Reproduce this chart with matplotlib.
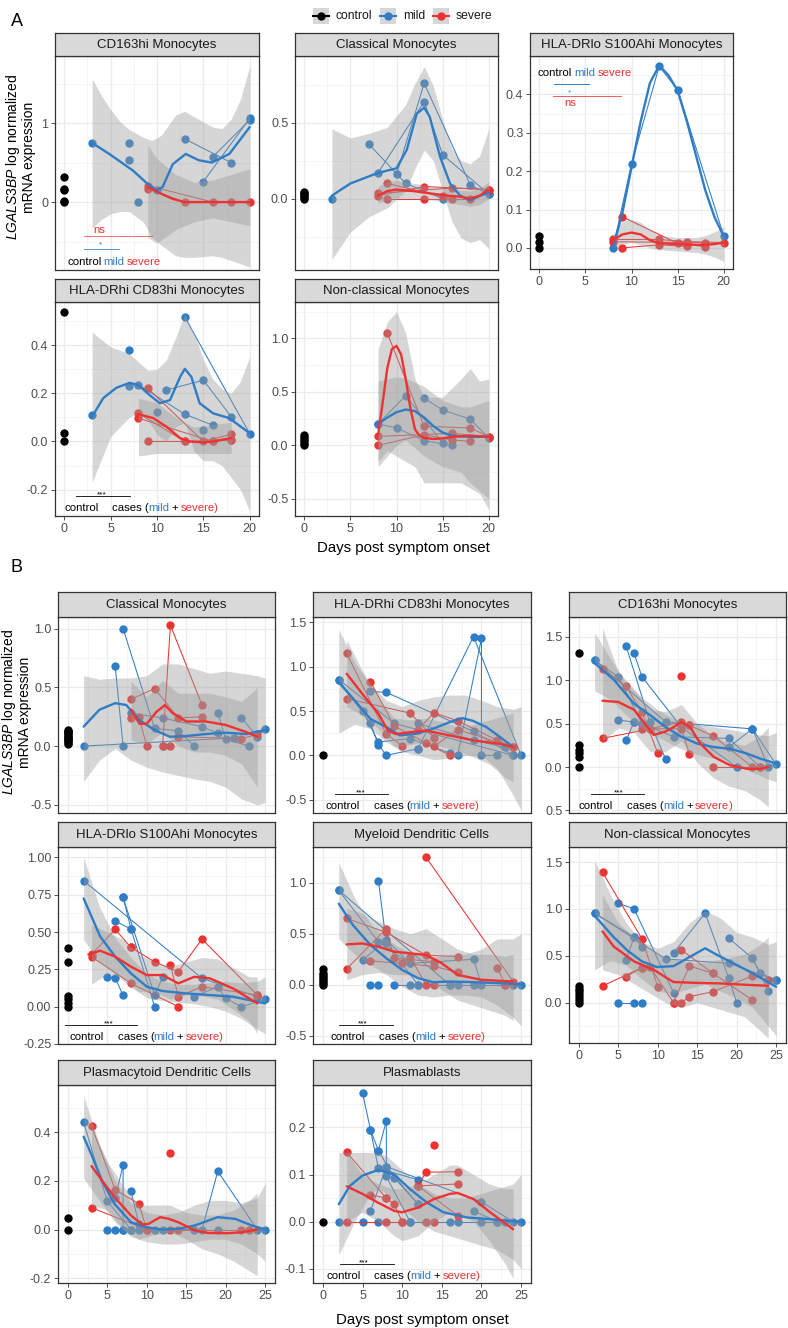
import matplotlib
matplotlib.use("Agg")
import matplotlib.pyplot as plt
import matplotlib.transforms as mtransforms
from matplotlib.patches import Rectangle

plt.rcParams['font.family'] = ['Liberation Sans', 'DejaVu Sans']
plt.rcParams['mathtext.fontset'] = 'custom'
plt.rcParams['mathtext.it'] = 'Liberation Sans:italic'
plt.rcParams['mathtext.rm'] = 'Liberation Sans'

BLUE = '#2F7DC6'
RED = '#EE3232'
W, H = 788, 1328

# ==========================
# DATA  (x = days, y = expression)
# ==========================
# --- A: CD163hi Monocytes
a_cd163_ctrl = [0.32, 0.17, 0.15, 0.02, 0.0]
a_cd163_mild = [[(3, 0.75)], [(7, 0.75)], [(7, 0.53)], [(8, 0.0)], [(10, 0.15)],
                [(13, 0.80), (18, 0.50)], [(15, 0.26), (20, 1.06)], [(16, 0.57), (20, 1.04)]]
a_cd163_mfit = [(3, 0.75), (4.85, 0.61), (7.4, 0.40), (8.8, 0.25), (9.9, 0.15), (10.6, 0.19),
                (11.7, 0.48), (13.1, 0.61), (14.5, 0.53), (15.9, 0.50), (17.8, 0.61), (20, 0.95)]
a_cd163_mband = [(3, -0.33, 1.56), (4, -0.22, 1.35), (5, -0.15, 1.17), (6, -0.12, 1.02), (7, -0.12, 0.92),
                 (8.5, -0.25, 0.82), (9.5, -0.45, 0.78), (10.5, -0.55, 0.85), (12, -0.68, 1.10),
                 (13, -0.70, 1.15), (14, -0.70, 1.08), (16, -0.68, 0.95), (17, -0.70, 0.93),
                 (18, -0.74, 1.05), (19, -0.78, 1.30), (20, -0.82, 1.72)]
a_cd163_sev = [[(9, 0.21), (16, 0.0), (20, 0.0)], [(9, 0.17), (13, 0.0), (18, 0.0)]]
a_cd163_sfit = [(9, 0.19), (10, 0.13), (11.7, 0.04), (13, 0.0), (16, 0.0), (18, 0.0), (20, 0.0)]
a_cd163_sband = [(9, -0.45, 0.72), (10, -0.52, 0.55), (12, -0.35, 0.35), (14, -0.25, 0.25),
                 (16, -0.20, 0.28), (18, -0.25, 0.35), (20, -0.30, 0.42)]

# --- A: Classical Monocytes
a_class_ctrl = [0.0, 0.01, 0.02, 0.03, 0.04, 0.045]
a_class_mild = [[(7, 0.36), (11, 0.10), (15, 0.0)], [(8, 0.17), (13, 0.64), (15, 0.29), (20, 0.03)],
                [(10, 0.16), (13, 0.76), (18, 0.09), (20, 0.03)], [(3, 0.0)]]
a_class_mfit = [(3, 0.02), (5, 0.10), (8, 0.17), (10, 0.20), (11.1, 0.32), (12.2, 0.56), (13, 0.60),
                (13.6, 0.54), (14.7, 0.28), (15.8, 0.10), (16.9, 0.02), (18, -0.01), (19.1, 0.02), (20, 0.04)]
a_class_mband = [(3, -0.40, 0.46), (5, -0.22, 0.40), (7, -0.12, 0.43), (9, -0.06, 0.47), (11, 0.05, 0.62),
                 (12, 0.20, 0.76), (13, 0.32, 0.87), (14, 0.25, 0.74), (15, 0.05, 0.52), (16, -0.15, 0.33),
                 (17, -0.26, 0.25), (18, -0.29, 0.23), (19, -0.27, 0.28), (20, -0.33, 0.46)]
a_class_sev = [[(8, 0.02), (13, 0.08), (20, 0.06)], [(8, 0.035), (16, 0.07), (20, 0.06)],
               [(9, 0.10), (16, 0.0)], [(9, 0.0), (13, 0.0), (18, 0.0)], [(15, 0.02)]]
a_class_sfit = [(8, 0.02), (9, 0.05), (10, 0.06), (11.8, 0.05), (13.6, 0.035), (15.5, 0.02),
                (16.9, 0.013), (18, 0.0), (19, 0.02), (20, 0.06)]
a_class_sband = [(8, -0.03, 0.08), (9, -0.01, 0.11), (10, 0.0, 0.12), (12, 0.0, 0.10), (14, -0.01, 0.08),
                 (16, -0.03, 0.06), (18, -0.05, 0.05), (19, -0.04, 0.07), (20, 0.0, 0.11)]

# --- A: HLA-DRlo S100Ahi Monocytes
a_dr100_ctrl = [0.0, 0.016, 0.031]
a_dr100_mild = [[(8, 0.0), (10, 0.219), (13, 0.473), (15, 0.412), (20, 0.031)]]
a_dr100_mfit = [(8, 0.0), (9, 0.09), (10, 0.21), (11, 0.33), (12, 0.43), (13, 0.475), (14, 0.45),
                (15, 0.41), (16, 0.33), (17, 0.24), (18, 0.15), (19, 0.08), (20, 0.03)]
a_dr100_mband = []
a_dr100_sev = [[(8, 0.022), (13, 0.022), (16, 0.016), (20, 0.014)], [(8, 0.016), (18, 0.014)],
               [(9, 0.081), (15, 0.012), (18, 0.003)], [(9, 0.0), (13, 0.008), (16, 0.004)]]
a_dr100_sfit = [(8, 0.02), (9, 0.035), (10, 0.04), (11, 0.035), (12, 0.02), (13, 0.012), (15, 0.01),
                (17, 0.008), (18, 0.008), (19, 0.01), (20, 0.014)]
a_dr100_sband = [(8, 0.0, 0.035), (9, 0.01, 0.068), (10, 0.014, 0.075), (11, 0.008, 0.066), (12, 0.0, 0.048),
                 (13, -0.005, 0.032), (15, -0.008, 0.027), (17, -0.012, 0.027), (18, -0.016, 0.032),
                 (19, -0.024, 0.042), (20, -0.035, 0.055)]

# --- A: HLA-DRhi CD83hi Monocytes
a_dr83_ctrl = [0.538, 0.034, 0.0]
a_dr83_mild = [[(8, 0.236), (13, 0.113), (16, 0.068)], [(11, 0.214), (15, 0.255), (18, 0.103)],
               [(13, 0.517), (20, 0.032)], [(3, 0.109)], [(7, 0.382)], [(7, 0.232)], [(10, 0.124)],
               [(15, 0.046)]]
a_dr83_mfit = [(3, 0.103), (4.2, 0.18), (5.6, 0.223), (7.07, 0.244), (8, 0.234), (9.2, 0.193), (10.3, 0.159),
               (11.4, 0.172), (12.5, 0.269), (13, 0.302), (13.7, 0.269), (14.6, 0.159), (16.05, 0.117),
               (17.8, 0.097), (20, 0.034)]
a_dr83_mband = [(3, -0.17, 0.455), (5, 0.02, 0.393), (7, 0.10, 0.366), (8, 0.12, 0.33), (9, 0.09, 0.297),
                (10, 0.03, 0.30), (11, 0.0, 0.338), (12, 0.06, 0.43), (13, 0.08, 0.531), (14, -0.04, 0.45),
                (15, -0.08, 0.34), (16, -0.08, 0.26), (17, -0.10, 0.22), (18, -0.15, 0.20),
                (19, -0.20, 0.25), (20, -0.29, 0.352)]
a_dr83_sev = [[(9, 0.221), (15, 0.0), (18, 0.03)], [(8, 0.117), (13, 0.0), (16, 0.0)],
              [(8, 0.097), (16, 0.0), (18, 0.007)], [(9, 0.0), (13, 0.0), (18, 0.007)]]
a_dr83_sfit = [(8, 0.114), (9.6, 0.097), (11, 0.062), (12.5, 0.014), (13.5, 0.0), (15, -0.004),
               (16, 0.0), (18, 0.014)]
a_dr83_sband = [(8, -0.06, 0.18), (10, -0.05, 0.16), (12, -0.05, 0.10), (14, -0.05, 0.06),
                (16, -0.05, 0.07), (18, -0.05, 0.08)]

# --- A: Non-classical Monocytes
a_ncm_ctrl = [0.0, 0.02, 0.04, 0.06, 0.08, 0.10]
a_ncm_mild = [[(8, 0.20), (11, 0.466), (15, 0.022)], [(8, 0.20), (10, 0.163), (13, 0.044), (16, 0.0)],
              [(13, 0.44), (15, 0.331), (18, 0.244), (20, 0.069)]]
a_ncm_mfit = [(8, 0.20), (9, 0.26), (10, 0.31), (11, 0.335), (12, 0.32), (13, 0.26), (14, 0.18),
              (15, 0.12), (16, 0.09), (18, 0.08), (20, 0.08)]
a_ncm_mband = [(8, -0.20, 0.60), (10, 0.0, 0.64), (11, 0.05, 0.63), (13, -0.10, 0.55), (15, -0.20, 0.42),
               (17, -0.25, 0.36), (18, -0.35, 0.36), (20, -0.50, 0.42)]
a_ncm_sev = [[(9, 1.05), (13, 0.178), (18, 0.163), (20, 0.081)], [(8, 0.084), (16, 0.113), (20, 0.081)],
             [(8, 0.0), (13, 0.10), (16, 0.05), (18, 0.038)]]
a_ncm_sfit = [(8, 0.09), (8.5, 0.40), (9, 0.72), (9.5, 0.90), (10, 0.93), (10.5, 0.85), (11, 0.62),
              (11.5, 0.35), (12, 0.15), (12.5, 0.09), (13, 0.07), (14, 0.06), (15, 0.065), (16, 0.08),
              (18, 0.09), (20, 0.08)]
a_ncm_sband = [(8, -0.15, 0.90), (9, -0.05, 1.15), (10, -0.10, 1.25), (11, -0.15, 1.05), (12, -0.20, 0.62),
               (13, -0.35, 0.45), (15, -0.35, 0.45), (17, -0.35, 0.62), (18, -0.40, 0.72),
               (19, -0.45, 0.60), (20, -0.60, 0.62)]

# --- B: Classical Monocytes
b_class_ctrl = [0.02, 0.03, 0.04, 0.05, 0.06, 0.07, 0.08, 0.09, 0.10, 0.11, 0.12, 0.13, 0.14]
b_class_mild = [[(2, 0.0), (21, 0.07)], [(6, 0.68), (7, 0.0)], [(7, 1.0), (11, 0.15), (14, 0.13), (16, 0.0)],
                [(8, 0.28), (12, 0.24), (17, 0.165), (19, 0.11)], [(12, 0.0)],
                [(19, 0.286), (20, 0.057), (23, 0.0)], [(22, 0.24), (24, 0.08), (25, 0.146)]]
b_class_mfit = [(2, 0.166), (4, 0.31), (6, 0.366), (7.4, 0.35), (9.1, 0.22), (11, 0.137), (12.9, 0.08),
                (15, 0.086), (17.5, 0.103), (20, 0.114), (22.6, 0.103), (25, 0.137)]
b_class_mband = [(2, -0.30, 0.60), (4, -0.12, 0.57), (6, -0.02, 0.58), (8, -0.12, 0.58), (10, -0.18, 0.60),
                 (12, -0.22, 0.70), (14, -0.25, 0.70), (16, -0.28, 0.66), (18, -0.30, 0.62),
                 (20, -0.35, 0.64), (22, -0.45, 0.62), (24, -0.50, 0.60), (25, -0.48, 0.58)]
b_class_sev = [[(8, 0.40), (11, 0.49), (14, 0.24), (17, 0.25)], [(12, 0.0), (13, 1.03), (17, 0.35)],
               [(8, 0.24), (9, 0.25), (10, 0.0)], [(14, 0.08), (22, 0.063), (24, 0.10)], [(13, 0.0)]]
b_class_sfit = [(8, 0.31), (9.1, 0.19), (10, 0.19), (11.2, 0.29), (12.3, 0.35), (13.3, 0.28), (15, 0.21),
                (17.5, 0.21), (20, 0.18), (22.6, 0.12), (24, 0.08)]
b_class_sband = [(8, 0.05, 0.55), (10, 0.02, 0.42), (12, 0.12, 0.56), (14, 0.0, 0.45), (16, -0.05, 0.45),
                 (18, -0.05, 0.45), (20, -0.08, 0.42), (22, -0.15, 0.38), (24, -0.35, 0.50)]

# --- B: HLA-DRhi CD83hi Monocytes
b_dr83_ctrl = [0.0]
b_dr83_mild = [[(2, 0.855), (6, 0.36), (7, 0.12), (8, 0.0), (12, 0.075)], [(2, 0.855), (9, 0.36), (24, 0.0)],
               [(6, 0.72), (8, 0.71), (19, 0.27), (24, 0.0)], [(12, 0.075), (19, 1.34), (25, 0.0)],
               [(17, 0.0), (20, 1.32), (20, 0.0), (22, 0.0)], [(5, 0.5), (7, 0.15), (11, 0.19), (16, 0.026)],
               [(12, 0.36), (19, 0.17), (23, 0.09)]]
b_dr83_mfit = [(2, 0.825), (3.8, 0.64), (6, 0.41), (8, 0.32), (9.7, 0.225), (11.8, 0.244), (13.9, 0.30),
               (16, 0.375), (17.6, 0.42), (18.9, 0.39), (20.6, 0.32), (22.3, 0.21), (24, 0.094)]
b_dr83_mband = [(2, 0.25, 1.42), (4, 0.35, 1.05), (6, 0.30, 0.80), (8, 0.15, 0.62), (10, 0.04, 0.55),
                (12, 0.0, 0.62), (14, -0.05, 0.66), (16, -0.03, 0.68), (18, 0.0, 0.68), (20, 0.0, 0.62),
                (22, -0.15, 0.55), (24, -0.45, 0.52), (25, -0.62, 0.55)]
b_dr83_sev = [[(3, 1.15), (8, 0.24), (10, 0.11)], [(3, 0.64), (11, 0.476), (14, 0.20)],
              [(6, 0.83), (9, 0.33), (13, 0.14), (16, 0.0)],
              [(12, 0.29), (14, 0.48), (17, 0.39), (22, 0.17), (24, 0.094)], [(14, 0.10), (17, 0.29), (24, 0.094)]]
b_dr83_sfit = [(3, 0.92), (5, 0.69), (7, 0.47), (8.2, 0.28), (9.2, 0.24), (10.9, 0.26), (13, 0.28),
               (16, 0.225), (18.9, 0.17), (22.3, 0.13), (24, 0.094)]
b_dr83_sband = [(3, 0.55, 1.30), (5, 0.45, 0.95), (7, 0.30, 0.65), (9, 0.10, 0.42), (11, 0.12, 0.40),
                (13, 0.15, 0.42), (15, 0.10, 0.38), (17, 0.05, 0.32), (19, -0.02, 0.35), (21, -0.10, 0.40),
                (23, -0.25, 0.45), (24, -0.30, 0.48)]

# --- B: CD163hi Monocytes
b_cd163_ctrl = [1.31, 0.25, 0.20, 0.16, 0.12, 0.0]
b_cd163_mild = [[(2, 1.23), (11, 0.52), (22, 0.44), (25, 0.03)],
                [(2, 1.23), (5, 1.04), (8, 0.50), (12, 0.35), (19, 0.33), (23, 0.0)],
                [(6, 1.39), (9, 0.52), (11, 0.09)], [(7, 1.31), (8, 1.04), (13, 0.46), (20, 0.0)],
                [(5, 0.54), (7, 0.52), (8, 0.50)], [(6, 0.31), (7, 0.52)], [(19, 0.23), (22, 0.44), (24, 0.0)]]
b_cd163_mfit = [(2, 1.20), (4.5, 1.0), (7, 0.73), (9, 0.60), (11, 0.46), (13, 0.35), (15, 0.27),
                (17.1, 0.23), (19.2, 0.21), (21.3, 0.155), (23, 0.097), (25, 0.04)]
b_cd163_mband = [(2, 0.88, 1.55), (4, 0.78, 1.25), (6, 0.60, 0.97), (8, 0.45, 0.80), (10, 0.35, 0.66),
                 (12, 0.25, 0.56), (14, 0.17, 0.50), (16, 0.12, 0.48), (18, 0.10, 0.45), (20, 0.03, 0.42),
                 (22, -0.06, 0.38), (24, -0.14, 0.36), (25, -0.17, 0.40)]
b_cd163_sev = [[(3, 1.13), (6, 0.93), (8, 0.63), (10, 0.16)], [(3, 0.33), (9, 0.44), (13, 0.52), (14, 0.48)],
               [(8, 0.44), (13, 0.44), (14, 0.15)], [(14, 0.48), (17, 0.36), (22, 0.0)],
               [(17, 0.0), (23, 0.0)], [(13, 1.05)]]
b_cd163_sfit = [(3, 0.765), (5, 0.75), (7, 0.66), (8.7, 0.46), (9.5, 0.37), (11, 0.41), (12, 0.46),
                (13, 0.52), (14.1, 0.46), (15.4, 0.27), (17.1, 0.116), (19.2, 0.02), (21.3, -0.02),
                (23, -0.02), (24, 0.0)]
b_cd163_sband = [(3, 0.30, 1.60), (5, 0.45, 1.10), (7, 0.40, 0.90), (9, 0.18, 0.66), (11, 0.18, 0.64),
                 (13, 0.30, 0.72), (15, 0.05, 0.50), (17, -0.12, 0.36), (19, -0.22, 0.28),
                 (21, -0.27, 0.25), (23, -0.38, 0.36), (24, -0.46, 0.46)]

# --- B: HLA-DRlo S100Ahi Monocytes
b_dr100_ctrl = [0.395, 0.297, 0.071, 0.049, 0.027, 0.0]
b_dr100_mild = [[(2, 0.844), (17, 0.19), (24, 0.067)], [(6, 0.574), (8, 0.52), (11, 0.0)],
                [(7, 0.732), (8, 0.52)], [(5, 0.196), (6, 0.192), (7, 0.076)],
                [(7, 0.732), (11, 0.078), (12, 0.196)],
                [(16, 0.067), (19, 0.134), (20, 0.056), (22, 0.0), (25, 0.049)]]
b_dr100_mfit = [(2, 0.725), (4.1, 0.47), (6, 0.335), (8, 0.223), (10, 0.134), (12, 0.105), (15, 0.089),
                (18, 0.078), (20.9, 0.067), (25, 0.022)]
b_dr100_mband = [(2, 0.45, 1.00), (4, 0.30, 0.67), (6, 0.22, 0.46), (8, 0.13, 0.33), (10, 0.06, 0.22),
                 (12, 0.04, 0.17), (14, 0.03, 0.15), (16, 0.02, 0.15), (18, 0.0, 0.16), (20, -0.03, 0.17),
                 (22, -0.08, 0.16), (24, -0.15, 0.17), (25, -0.18, 0.20)]
b_dr100_sev = [[(3, 0.35), (6, 0.518), (8, 0.397)], [(3, 0.335), (8, 0.156), (14, 0.0)],
               [(8, 0.397), (11, 0.30), (14, 0.234), (17, 0.453), (24, 0.078)],
               [(13, 0.279), (14, 0.067), (17, 0.134), (24, 0.078)]]
b_dr100_sfit = [(2.6, 0.35), (4.1, 0.375), (6, 0.335), (8, 0.268), (10, 0.212), (12, 0.212), (14, 0.156),
                (16, 0.20), (18, 0.19), (20.9, 0.123), (24, 0.022)]
b_dr100_sband = [(3, 0.15, 0.55), (5, 0.22, 0.50), (7, 0.20, 0.45), (9, 0.10, 0.35), (11, 0.10, 0.30),
                 (13, 0.05, 0.27), (15, 0.08, 0.30), (17, 0.07, 0.33), (19, 0.05, 0.32), (21, -0.02, 0.26),
                 (23, -0.10, 0.20), (24, -0.18, 0.20)]

# --- B: Myeloid Dendritic Cells
b_mdc_ctrl = [0.0, 0.02, 0.04, 0.06, 0.08, 0.10, 0.12, 0.15]
b_mdc_mild = [[(2, 0.925), (16, 0.0)], [(2, 0.925), (7, 0.42), (11, 0.21)], [(7, 1.02), (8, 0.41), (12, 0.0)],
              [(5, 0.24), (8, 0.44), (11, 0.21), (19, 0.25), (20, 0.0)], [(6, 0.0), (7, 0.0)],
              [(9, 0.0), (11, 0.0), (12, 0.0), (16, 0.0)], [(17, 0.0), (19, 0.0), (23, 0.0), (24, 0.0), (25, 0.0)]]
b_mdc_mfit = [(2, 0.795), (3.8, 0.584), (6, 0.39), (8, 0.26), (10, 0.146), (12, 0.065), (13.9, 0.026),
              (16, 0.032), (18.9, 0.026), (22.3, 0.016), (25, 0.006)]
b_mdc_mband = [(2, 0.45, 1.20), (4, 0.30, 0.85), (6, 0.20, 0.60), (8, 0.10, 0.45), (10, -0.02, 0.35),
               (12, -0.10, 0.30), (14, -0.12, 0.27), (16, -0.10, 0.30), (18, -0.10, 0.30), (20, -0.12, 0.35),
               (22, -0.20, 0.45), (24, -0.32, 0.45), (25, -0.40, 0.50)]
b_mdc_sev = [[(3, 0.65), (8, 0.513), (13, 0.29), (17, 0.276)], [(3, 0.156), (8, 0.55), (9, 0.26), (14, 0.227)],
             [(6, 0.234), (10, 0.21), (14, 0.18), (17, 0.123)], [(13, 1.25), (24, 0.032)],
             [(11, 0.276), (13, 0.0), (14, 0.0)], [(22, 0.169), (23, 0.0)]]
b_mdc_sfit = [(3, 0.396), (5, 0.405), (7, 0.373), (9, 0.325), (11, 0.308), (13, 0.292), (15, 0.211),
              (17, 0.097), (20, 0.049), (24, 0.032)]
b_mdc_sband = [(3, 0.05, 0.75), (5, 0.10, 0.70), (7, 0.12, 0.62), (9, 0.10, 0.55), (11, 0.10, 0.50),
               (13, 0.05, 0.55), (15, -0.05, 0.45), (17, -0.15, 0.35), (19, -0.20, 0.30), (21, -0.25, 0.30),
               (23, -0.30, 0.28), (24, -0.35, 0.30)]

# --- B: Non-classical Monocytes
b_ncm_ctrl = [0.0, 0.03, 0.06, 0.09, 0.12, 0.15, 0.18]
b_ncm_mild = [[(2, 0.954), (11, 0.466), (19, 0.42), (25, 0.242)], [(2, 0.954), (7, 0.70), (8, 0.59)],
              [(5, 1.06), (7, 1.0), (12, 0.107)], [(5, 0.0), (7, 0.0), (8, 0.0)], [(6, 0.46), (7, 0.70)],
              [(12, 0.53), (16, 0.954), (19, 0.26), (20, 0.0)],
              [(19, 0.687), (22, 0.473), (23, 0.313), (25, 0.242)], [(22, 0.473), (24, 0.125)]]
b_ncm_mfit = [(1.9, 0.936), (4.4, 0.70), (6.1, 0.56), (8, 0.44), (9.9, 0.38), (12, 0.39), (14.1, 0.49),
              (16, 0.58), (17.5, 0.51), (19.6, 0.42), (22.1, 0.31), (25, 0.17)]
b_ncm_mband = [(2, 0.35, 1.52), (4, 0.45, 1.15), (6, 0.40, 0.85), (8, 0.25, 0.65), (10, 0.12, 0.58),
               (12, 0.10, 0.65), (14, 0.15, 0.85), (16, 0.20, 0.98), (18, 0.12, 0.90), (20, 0.05, 0.75),
               (22, -0.05, 0.70), (24, -0.25, 0.62), (25, -0.35, 0.65)]
b_ncm_sev = [[(3, 1.39), (8, 0.68), (10, 0.171)], [(3, 0.178), (8, 0.374), (9, 0.384), (12, 0.0)],
             [(6, 0.278), (8, 0.374)], [(13, 0.562), (17, 0.313), (22, 0.028)],
             [(13, 0.0), (14, 0.064), (17, 0.117), (22, 0.285), (24, 0.242)], [(12, 0.0), (14, 0.391), (17, 0.313)]]
b_ncm_sfit = [(3, 0.76), (4.4, 0.60), (7, 0.44), (9.5, 0.35), (11.2, 0.26), (12, 0.22), (15.4, 0.21),
              (18, 0.205), (21.3, 0.19), (24, 0.18)]
b_ncm_sband = [(3, 0.35, 1.15), (5, 0.30, 0.85), (7, 0.20, 0.70), (9, 0.10, 0.58), (11, 0.0, 0.48),
               (13, -0.05, 0.45), (15, 0.0, 0.42), (17, -0.05, 0.45), (19, -0.10, 0.48), (21, -0.15, 0.52),
               (23, -0.30, 0.62), (24, -0.38, 0.70)]

# --- B: Plasmacytoid Dendritic Cells
b_pdc_ctrl = [0.049, 0.0]
b_pdc_mild = [[(2, 0.441), (5, 0.116), (8, 0.0)], [(6, 0.131), (7, 0.265), (7, 0.0)],
              [(8, 0.157), (9, 0.023), (11, 0.0)], [(5, 0.0), (6, 0.0), (7, 0.0), (8, 0.0), (9, 0.0)],
              [(12, 0.0), (16, 0.0), (17, 0.0), (19, 0.24), (24, 0.0)], [(19, 0.0), (25, 0.0)]]
b_pdc_mfit = [(2, 0.382), (3.1, 0.30), (4.3, 0.203), (5.9, 0.106), (8, 0.03), (9.8, 0.01), (11.9, 0.0),
              (14, 0.003), (16.1, 0.017), (17.8, 0.037), (19, 0.051), (21.2, 0.044), (23.3, 0.017), (25, 0.0)]
b_pdc_mband = [(2, 0.21, 0.55), (4, 0.12, 0.35), (6, 0.03, 0.20), (8, -0.03, 0.11), (10, -0.05, 0.07),
               (12, -0.06, 0.06), (14, -0.06, 0.07), (16, -0.05, 0.10), (18, -0.04, 0.12), (20, -0.04, 0.12),
               (22, -0.06, 0.11), (24, -0.10, 0.13), (25, -0.13, 0.19)]
b_pdc_sev = [[(3, 0.426), (6, 0.164), (9, 0.106), (10, 0.0)], [(3, 0.09), (10, 0.0)], [(13, 0.316)],
             [(13, 0.0), (14, 0.0), (22, 0.0), (23, 0.0)]]
b_pdc_sfit = [(3, 0.261), (4.3, 0.203), (5.9, 0.134), (8, 0.058), (9.4, 0.021), (10.2, 0.023), (11.7, 0.051),
              (12.8, 0.044), (14, 0.03), (16.1, -0.004), (17.8, -0.014), (20.3, -0.015), (22, -0.011), (24, 0.0)]
b_pdc_sband = [(3, 0.10, 0.42), (5, 0.08, 0.28), (7, 0.0, 0.18), (9, -0.04, 0.10), (11, -0.02, 0.10),
               (13, -0.01, 0.10), (15, -0.04, 0.07), (17, -0.08, 0.06), (19, -0.10, 0.06), (21, -0.13, 0.08),
               (23, -0.17, 0.12), (24, -0.19, 0.15)]

# --- B: Plasmablasts
b_pb_ctrl = [0.0]
b_pb_mild = [[(5, 0.273), (6, 0.195), (7, 0.113), (12, 0.089)], [(6, 0.195), (7, 0.151), (9, 0.093), (12, 0.037)],
             [(7, 0.151), (8, 0.214), (8, 0.096), (11, 0.0)], [(6, 0.023), (8, 0.117), (20, 0.042), (24, 0.0)],
             [(2, 0.0), (5, 0.0), (7, 0.0), (11, 0.0), (16, 0.0), (17, 0.0), (20, 0.0), (22, 0.0), (23, 0.0), (25, 0.0)],
             [(19, 0.023), (22, 0.0)], [(8, 0.117), (12, 0.037)]]
b_pb_mfit = [(2, 0.037), (3.4, 0.076), (5, 0.098), (7, 0.11), (9, 0.10), (11, 0.069), (13.1, 0.041),
             (15.2, 0.02), (18.2, 0.009), (20.7, 0.006), (23.2, 0.002), (25, 0.0)]
b_pb_mband = [(2, -0.07, 0.147), (4, 0.0, 0.147), (6, 0.06, 0.147), (7, 0.07, 0.145), (8, 0.06, 0.14),
              (10, 0.03, 0.11), (12, 0.0, 0.08), (14, -0.02, 0.06), (16, -0.03, 0.05), (18, -0.04, 0.05),
              (20, -0.05, 0.06), (22, -0.06, 0.07), (24, -0.08, 0.08), (25, -0.10, 0.10)]
b_pb_sev = [[(3, 0.147), (8, 0.05), (9, 0.037), (10, 0.0)], [(3, 0.0), (8, 0.0), (10, 0.0)], [(6, 0.057), (8, 0.05)],
            [(12, 0.076), (13, 0.105), (17, 0.106)], [(12, 0.076), (17, 0.08)], [(13, 0.0), (14, 0.0)],
            [(14, 0.163)], [(12, 0.076), (17, 0.013)]]
b_pb_sfit = [(3, 0.075), (5, 0.059), (7, 0.04), (9, 0.023), (10, 0.02), (12, 0.03), (14, 0.048), (16, 0.059),
             (17, 0.061), (19, 0.048), (21.1, 0.02), (24, -0.016)]
b_pb_sband = [(3, 0.0, 0.145), (5, 0.02, 0.10), (7, 0.0, 0.08), (9, -0.03, 0.07), (10, -0.04, 0.07),
              (12, -0.03, 0.08), (14, 0.0, 0.10), (16, 0.02, 0.12), (17, 0.02, 0.12), (19, 0.0, 0.10),
              (21, -0.04, 0.08), (23, -0.09, 0.07), (24, -0.12, 0.07)]

# ==========================
# PANEL LAYOUT  (pixel box: x0, x1, strip top, strip bottom, plot bottom)
# ==========================
PANELS = [
    ("CD163hi Monocytes", (55, 259, 33, 56, 270), 20, (-0.86, 1.85), [0, 1], ["0", "1"], False,
     (a_cd163_ctrl, a_cd163_mild, a_cd163_mfit, a_cd163_mband, a_cd163_sev, a_cd163_sfit, a_cd163_sband), "a1"),
    ("Classical Monocytes", (295, 498, 33, 56, 270), 20, (-0.47, 0.94), [0, 0.5], ["0.0", "0.5"], False,
     (a_class_ctrl, a_class_mild, a_class_mfit, a_class_mband, a_class_sev, a_class_sfit, a_class_sband), None),
    ("HLA-DRlo S100Ahi Monocytes", (530, 733, 33, 56, 269), 20, (-0.055, 0.5), [0, 0.1, 0.2, 0.3, 0.4],
     ["0.0", "0.1", "0.2", "0.3", "0.4"], True,
     (a_dr100_ctrl, a_dr100_mild, a_dr100_mfit, a_dr100_mband, a_dr100_sev, a_dr100_sfit, a_dr100_sband), "a3"),
    ("HLA-DRhi CD83hi Monocytes", (55, 259, 279, 302, 516), 20, (-0.31, 0.58), [-0.2, 0, 0.2, 0.4],
     ["-0.2", "0.0", "0.2", "0.4"], True,
     (a_dr83_ctrl, a_dr83_mild, a_dr83_mfit, a_dr83_mband, a_dr83_sev, a_dr83_sfit, a_dr83_sband),
     ("cases", 1.26, 7.07, 4.0, 0.0, 5.2)),
    ("Non-classical Monocytes", (295, 498, 279, 302, 516), 20, (-0.66, 1.34), [-0.5, 0, 0.5, 1.0],
     ["-0.5", "0.0", "0.5", "1.0"], True,
     (a_ncm_ctrl, a_ncm_mild, a_ncm_mfit, a_ncm_mband, a_ncm_sev, a_ncm_sfit, a_ncm_sband), None),
    ("Classical Monocytes", (58, 275, 592, 617, 813), 25, (-0.57, 1.10), [-0.5, 0, 0.5, 1.0],
     ["-0.5", "0.0", "0.5", "1.0"], False,
     (b_class_ctrl, b_class_mild, b_class_mfit, b_class_mband, b_class_sev, b_class_sfit, b_class_sband), None),
    ("HLA-DRhi CD83hi Monocytes", (313, 531, 592, 617, 813), 25, (-0.65, 1.56), [-0.5, 0, 0.5, 1.0, 1.5],
     ["-0.5", "0.0", "0.5", "1.0", "1.5"], False,
     (b_dr83_ctrl, b_dr83_mild, b_dr83_mfit, b_dr83_mband, b_dr83_sev, b_dr83_sfit, b_dr83_sband),
     ("cases", 1.5, 8.2, 4.8, 0.3, 6.4)),
    ("CD163hi Monocytes", (569, 786, 592, 617, 813), 25, (-0.53, 1.73), [-0.5, 0, 0.5, 1.0, 1.5],
     ["0.5", "0.0", "0.5", "1.0", "1.5"], False,
     (b_cd163_ctrl, b_cd163_mild, b_cd163_mfit, b_cd163_mband, b_cd163_sev, b_cd163_sfit, b_cd163_sband),
     ("cases", 1.5, 8.3, 5.1, 0.0, 6.1)),
    ("HLA-DRlo S100Ahi Monocytes", (58, 275, 822, 847, 1044), 25, (-0.25, 1.07), [-0.25, 0, 0.25, 0.5, 0.75, 1.0],
     ["-0.25", "0.00", "0.25", "0.50", "0.75", "1.00"], False,
     (b_dr100_ctrl, b_dr100_mild, b_dr100_mfit, b_dr100_mband, b_dr100_sev, b_dr100_sfit, b_dr100_sband),
     ("cases", -0.3, 8.8, 5.2, 0.2, 6.3)),
    ("Myeloid Dendritic Cells", (313, 531, 822, 847, 1044), 25, (-0.58, 1.35), [-0.5, 0, 0.5, 1.0],
     ["-0.5", "0.0", "0.5", "1.0"], False,
     (b_mdc_ctrl, b_mdc_mild, b_mdc_mfit, b_mdc_mband, b_mdc_sev, b_mdc_sfit, b_mdc_sband),
     ("cases", 2.0, 8.8, 5.0, 0.9, 7.1)),
    ("Non-classical Monocytes", (569, 786, 822, 847, 1043), 25, (-0.43, 1.66), [0, 0.5, 1.0, 1.5],
     ["0.0", "0.5", "1.0", "1.5"], True,
     (b_ncm_ctrl, b_ncm_mild, b_ncm_mfit, b_ncm_mband, b_ncm_sev, b_ncm_sfit, b_ncm_sband), None),
    ("Plasmacytoid Dendritic Cells", (58, 275, 1060, 1085, 1283), 25, (-0.22, 0.595), [-0.2, 0, 0.2, 0.4],
     ["-0.2", "0.0", "0.2", "0.4"], True,
     (b_pdc_ctrl, b_pdc_mild, b_pdc_mfit, b_pdc_mband, b_pdc_sev, b_pdc_sfit, b_pdc_sband), None),
    ("Plasmablasts", (313, 531, 1060, 1085, 1283), 25, (-0.13, 0.29), [-0.1, 0, 0.1, 0.2],
     ["-0.1", "0.0", "0.1", "0.2"], True,
     (b_pb_ctrl, b_pb_mild, b_pb_mfit, b_pb_mband, b_pb_sev, b_pb_sfit, b_pb_sband),
     ("cases", 2.2, 9.0, 5.1, 0.4, 6.5)),
]

MS = 6.0
NOTE_FS = 8.2


def px_rect(x0, x1, ytop, ybot):
    return [x0 / W, 1 - ybot / H, (x1 - x0) / W, (ybot - ytop) / H]


def chain_text(ax, x, y, pieces, transform, size):
    # pieces: (text, colour, gap in points before it)
    t = ax.text(x, y, pieces[0][0], color=pieces[0][1], transform=transform,
                ha='left', va='center', fontsize=size, zorder=6)
    for s, c, gap in pieces[1:]:
        t = ax.annotate(s, xy=(1, 0), xycoords=t, xytext=(gap, 0), textcoords='offset points',
                        color=c, fontsize=size, ha='left', va='bottom', zorder=6)


def note_cases(ax, lx0, lx1, sx, cx, kx):
    tr = mtransforms.blended_transform_factory(ax.transData, ax.transAxes)
    ax.plot([lx0, lx1], [0.095, 0.095], color='black', lw=0.6, transform=tr, zorder=6)
    ax.text(sx, 0.093, "***", fontsize=6, ha='center', va='baseline', transform=tr, zorder=6)
    ax.text(cx, 0.037, "control", fontsize=NOTE_FS, ha='left', va='center', transform=tr, zorder=6)
    sp = 0.278 * NOTE_FS
    chain_text(ax, kx, 0.037, [("cases (", 'black', 0), ("mild", BLUE, -0.6), ("+", 'black', sp - 0.6),
                               ("severe", RED, sp - 0.6), (")", RED, -0.6)], tr, NOTE_FS)


def note_groups(ax, x, y):
    sp = 0.278 * NOTE_FS
    chain_text(ax, x, y, [("control", 'black', 0), ("mild", BLUE, sp - 0.6), ("severe", RED, sp - 0.6)],
               ax.transData, NOTE_FS)


def draw_panel(fig, spec):
    title, box, xmax, ylim, yticks, ylabels, show_x, data, note = spec
    x0, x1, stop, sbot, pbot = box
    ctrl, mild, mfit, mband, sev, sfit, sband = data

    ax = fig.add_axes(px_rect(x0, x1, sbot, pbot))
    st = fig.add_axes(px_rect(x0, x1, stop, sbot))
    st.set_facecolor('#D9D9D9')
    st.set_xticks([])
    st.set_yticks([])
    for s in st.spines.values():
        s.set_color('#333333')
        s.set_linewidth(0.9)
    st.text(0.5, 0.48, title, ha='center', va='center', fontsize=9.5, color='#1A1A1A',
            transform=st.transAxes)

    pad = xmax * 0.05
    ax.set_xlim(-pad, xmax + pad)
    ax.set_ylim(*ylim)
    xmaj = list(range(0, xmax + 1, 5))
    xmin = [v + 2.5 for v in xmaj[:-1]]
    ax.set_xticks(xmaj)
    ax.set_xticks(xmin, minor=True)
    step = yticks[1] - yticks[0]
    ymin = [v + step / 2 for v in [yticks[0] - step] + yticks]
    ax.set_yticks(yticks)
    ax.set_yticklabels(ylabels)
    ax.set_yticks([v for v in ymin if ylim[0] < v < ylim[1]], minor=True)
    ax.grid(which='major', color='#EBEBEB', lw=0.9, zorder=0)
    ax.grid(which='minor', color='#F2F2F2', lw=0.5, zorder=0)
    ax.set_axisbelow(True)
    ax.tick_params(which='minor', length=0)
    ax.tick_params(which='major', length=2.8, width=0.6, color='#333333', labelcolor='#4D4D4D',
                   labelsize=9, pad=2)
    if show_x:
        ax.set_xticklabels([str(v) for v in xmaj])
    else:
        ax.tick_params(axis='x', which='major', length=0, labelbottom=False)
    for s in ax.spines.values():
        s.set_color('#333333')
        s.set_linewidth(0.9)

    # control samples
    ax.plot([0] * len(ctrl), ctrl, 'o', color='black', ms=MS, mec='none', zorder=2)
    # patient trajectories
    for trajs, col in ((mild, BLUE), (sev, RED)):
        for tr in trajs:
            xs = [p[0] for p in tr]
            ys = [p[1] for p in tr]
            ax.plot(xs, ys, '-', color=col, lw=0.75, zorder=2)
            ax.plot(xs, ys, 'o', color=col, ms=MS, mec='none', zorder=2)
    # smooth confidence bands and fits
    for band in (mband, sband):
        if band:
            ax.fill_between([b[0] for b in band], [b[1] for b in band], [b[2] for b in band],
                            color='#999999', alpha=0.4, lw=0, zorder=3)
    for fit, col in ((mfit, BLUE), (sfit, RED)):
        ax.plot([p[0] for p in fit], [p[1] for p in fit], '-', color=col, lw=1.7,
                solid_capstyle='round', zorder=4)

    # significance notes
    if note == "a1":
        ax.text(3.8, -0.35, "ns", color=RED, fontsize=NOTE_FS, ha='center', va='center', zorder=6)
        ax.plot([2.15, 9.5], [-0.43, -0.43], color=RED, lw=0.7, alpha=0.7, zorder=6)
        ax.text(3.9, -0.555, "*", color=BLUE, fontsize=6, ha='center', va='baseline', zorder=6)
        ax.plot([2.15, 5.85], [-0.59, -0.59], color=BLUE, lw=0.7, alpha=0.8, zorder=6)
        note_groups(ax, 0.3, -0.76)
    elif note == "a3":
        note_groups(ax, -0.15, 0.457)
        ax.plot([1.55, 5.35], [0.427, 0.427], color=BLUE, lw=0.7, zorder=6)
        ax.text(3.3, 0.40, "*", color=BLUE, fontsize=6, ha='center', va='baseline', zorder=6)
        ax.plot([1.45, 8.86], [0.395, 0.395], color=RED, lw=0.7, alpha=0.8, zorder=6)
        ax.text(3.4, 0.378, "ns", color=RED, fontsize=NOTE_FS, ha='center', va='center', zorder=6)
    elif note is not None:
        note_cases(ax, *note[1:])
    return ax


fig = plt.figure(figsize=(W / 100, H / 100), dpi=100)
for spec in PANELS:
    draw_panel(fig, spec)

# overlay in pixel coordinates for figure-level labels and legend
ov = fig.add_axes([0, 0, 1, 1], facecolor='none')
ov.set_xlim(0, W)
ov.set_ylim(H, 0)
ov.axis('off')

ov.text(17, 21, "A", fontsize=13, ha='center', va='center')
ov.text(17, 567, "B", fontsize=13, ha='center', va='center')
ylab = "$\\mathit{LGALS3BP}$ log normalized\nmRNA expression"
ov.text(20, 157, ylab, rotation=90, fontsize=10, ha='center', va='center', linespacing=1.05)
ov.text(16, 712, ylab, rotation=90, fontsize=10, ha='center', va='center', linespacing=1.05)
ov.text(403, 548, "Days post symptom onset", fontsize=10.8, ha='center', va='center')
ov.text(422, 1320, "Days post symptom onset", fontsize=10.8, ha='center', va='center')

# legend
legend_items = [("control", 'black', 313), ("mild", BLUE, 380), ("severe", RED, 433)]
for lab, col, kx in legend_items:
    ov.add_patch(Rectangle((kx, 8), 16.5, 16, facecolor='#D6D6D6', edgecolor='none'))
    ov.plot([kx, kx + 16.5], [16, 16], color=col, lw=1.5)
    ov.plot([kx + 8.25], [16], 'o', color=col, ms=MS, mec='none')
    ov.text(kx + 23, 16, lab, fontsize=8.7, ha='left', va='center', color='#1A1A1A')

fig.savefig("out.png", dpi=100)
